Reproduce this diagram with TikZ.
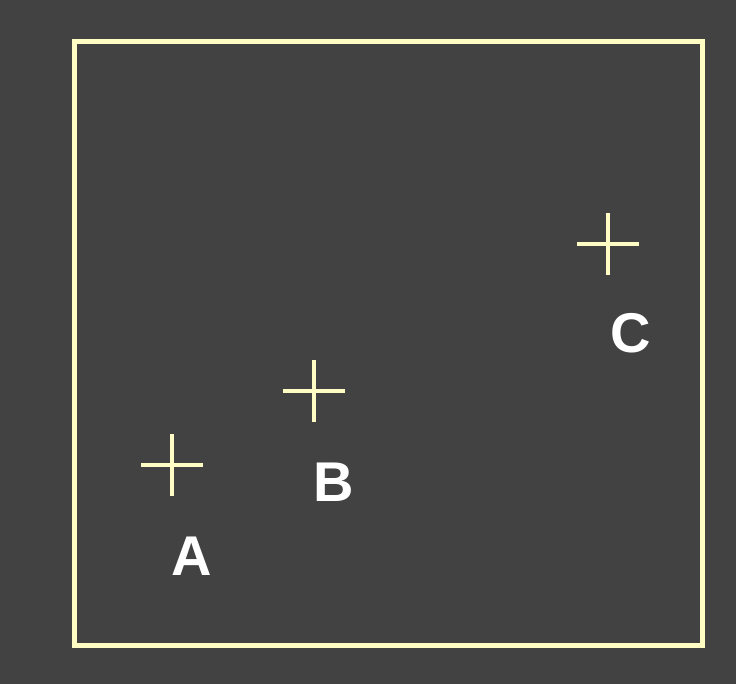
\documentclass[tikz,border=0pt]{standalone}
\usepackage{fontspec}
\setmainfont{Liberation Sans}
\usepackage{xcolor}
\usetikzlibrary{positioning, calc}

\definecolor{bgdark}{HTML}{424242}
\definecolor{paleyellow}{HTML}{FFFCC4}

\tikzset{
    plusmark/.style={draw=paleyellow, line width=4pt},
    ptlabel/.style={text=white, font=\bfseries\fontsize{56}{60}\selectfont, inner sep=0pt},
}

\begin{document}
\begin{tikzpicture}[x=1pt, y=1pt]
    % ── Background and frame ─────────────────────
    \fill[bgdark] (0,0) rectangle (736,684);
    \useasboundingbox (0,0) rectangle (736,684);
    \draw[paleyellow, line width=5pt] (74,38) rectangle (702,642);

    % ── Points ───────────────────────────────────
    \def\hw{31}   % half width of a cross
    \coordinate (A) at (172,219);
    \coordinate (B) at (314,293);
    \coordinate (C) at (608,440);
    \foreach \p in {A,B,C} {
        \draw[plusmark] ($(\p)+(-\hw,0)$) -- ($(\p)+(\hw,0)$);
        \draw[plusmark] ($(\p)+(0,-\hw)$) -- ($(\p)+(0,\hw)$);
    }

    % ── Labels ───────────────────────────────────
    \node[ptlabel] (labA) at (192,128) {A};
    \node[ptlabel] (labB) at (334,202) {B};
    \node[ptlabel] (labC) at (631,351) {C};
\end{tikzpicture}
\end{document}
